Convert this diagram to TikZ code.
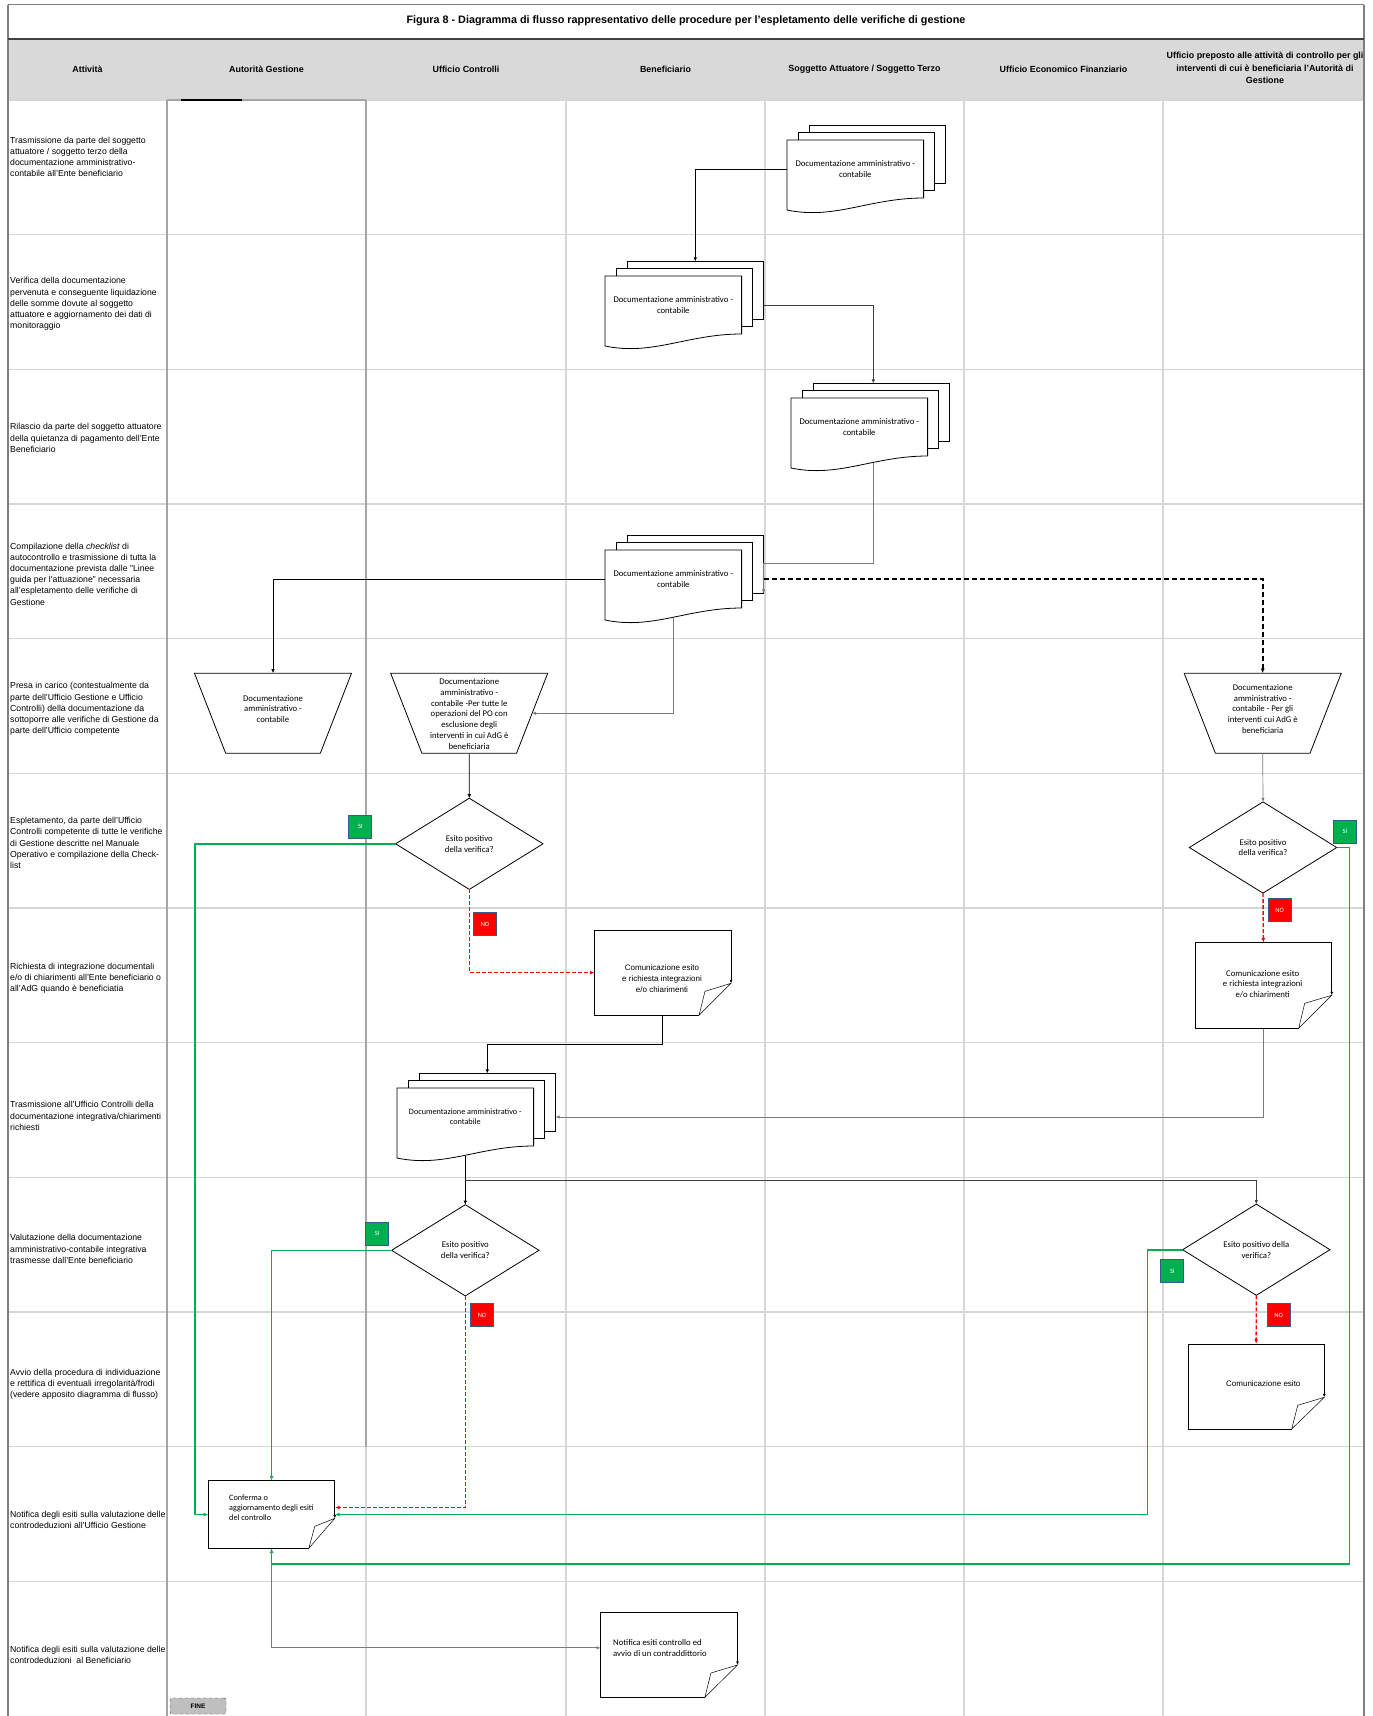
\documentclass[tikz,border=0pt]{standalone}
\usepackage{fontspec}
\setmainfont{Liberation Sans}
\newfontfamily\calfont{Carlito}
\usetikzlibrary{arrows.meta,calc}
\definecolor{gridgray}{HTML}{D6D6D6}
\definecolor{framegray}{HTML}{A6A6A6}
\definecolor{bordergray}{HTML}{7F7F7F}
\definecolor{hdrgray}{HTML}{D9D9D9}
\definecolor{conngray}{HTML}{7A7A7A}
\definecolor{okgreen}{HTML}{00B050}
\definecolor{boxblue}{HTML}{3A5A8C}
\definecolor{finefill}{HTML}{BFBFBF}
\definecolor{titleline}{HTML}{404040}

\tikzset{
  gridln/.style={draw=gridgray, line width=1.5pt},
  frameln/.style={draw=framegray, line width=1.3pt},
  shp/.style={draw=black, line width=0.8pt},
  stxt/.style={inner sep=0pt, align=center, font=\calfont\fontsize{8.7}{10.8}\selectfont},
  atxt/.style={inner sep=0pt, align=center, font=\fontsize{8}{11}\selectfont},
  dtxt/.style={stxt, minimum width=136.6pt, minimum height=58pt},
  lab/.style={anchor=west, align=left, inner sep=0pt, font=\fontsize{8.7}{11.2}\selectfont},
  hdr/.style={align=center, inner sep=0pt, font=\bfseries\fontsize{8.9}{12.5}\selectfont},
  conn/.style={draw=black, line width=0.7pt, -{Latex[length=4pt,width=3.4pt]}},
  connD/.style={draw=titleline, line width=0.7pt, -{Latex[length=4pt,width=3.4pt]}},
  connG/.style={draw=conngray, line width=0.7pt, -{Latex[length=4pt,width=3.4pt]}},
  siln/.style={draw=okgreen, line width=1.6pt, -{Latex[length=4.5pt,width=4pt]}},
  noln/.style={draw=red, line width=1.4pt, dash pattern=on 4pt off 2pt, -{Latex[length=4.5pt,width=4pt]}},
  bdash/.style={draw=black, line width=1.6pt, dash pattern=on 5pt off 3pt, -{Latex[length=4.5pt,width=4pt]}},
  sibox/.style={fill=okgreen, draw=boxblue, line width=0.9pt, minimum width=23pt, minimum height=23pt, inner sep=0pt, text=white, font=\calfont\fontsize{6.5}{7}\selectfont},
  nobox/.style={sibox, fill=red},
}

% multi-document: name, x(left of front page), y(top of front page), text, extra style
\newcommand{\mdoc}[5]{%
  \draw[shp] (#2+22,#3-7.3) -- (#2+22,#3-14.6) -- (#2+158.6,#3-14.6) -- (#2+158.6,#3+43.4) -- (#2+147.6,#3+43.4);
  \draw[shp] (#2+11,#3) -- (#2+11,#3-7.3) -- (#2+147.6,#3-7.3) -- (#2+147.6,#3+50.7) -- (#2+136.6,#3+50.7);
  \draw[shp] (#2,#3) -- (#2+136.6,#3) -- (#2+136.6,#3+58) .. controls (#2+82,#3+58) and (#2+47.8,#3+80) .. (#2,#3+70) -- cycle;
  \node[dtxt,#5] (#1) at (#2+68.3,#3+29) {#4};
  \coordinate (#1-t) at (#2+90.3,#3-14.6);
  \coordinate (#1-r) at (#2+158.6,#3+29);
  \coordinate (#1-b) at (#2+68.3,#3+67.8);
  \coordinate (#1-se) at (#2+158.6,#3+43.4);
}
% diamond: name, cx, cy, text
\newcommand{\diam}[4]{%
  \node[stxt, minimum width=147pt, minimum height=90.8pt] (#1) at (#2,#3) {#4};
  \draw[shp] (#1.north) -- (#1.east) -- (#1.south) -- (#1.west) -- cycle;
}
% inverted trapezium: name, cx, cy, text, text y
\newcommand{\trapz}[5]{%
  \draw[shp] (#2-78.5,#3-40) -- (#2+78.5,#3-40) -- (#2+47.3,#3+40) -- (#2-47.3,#3+40) -- cycle;
  \node[inner sep=0pt, minimum width=157pt, minimum height=80pt] (#1) at (#2,#3) {};
  \node[stxt] (#1-txt) at (#2,#5) {#4};
  \coordinate (#1-e) at (#2+62.9,#3);
}
% page with curled corner: name, x1, y1, x2, y2, fold w, fold h
\newcommand{\notebox}[7]{%
  \draw[shp] (#4-#6,#5) -- (#2,#5) -- (#2,#3) -- (#4,#3);
  \draw[shp,-{Latex[length=3.5pt,width=3pt]}] (#4,#3) -- (#4,#5-#7);
  \draw[shp,line width=0.5pt] (#4,#5-#7) -- (#4-#6,#5) -- (#4-#6+6,#5-#7+8) -- cycle;
  \node[inner sep=0pt, minimum width=#4-#2, minimum height=#5-#3] (#1) at ({(#2+#4)/2},{(#3+#5)/2}) {};
}

\begin{document}
\begin{tikzpicture}[x=1pt,y=-1pt]
\fill[white] (0,0) rectangle (1373,1716);
\useasboundingbox (0,0) rectangle (1373,1716);

% header band
\fill[hdrgray] (8,38.5) rectangle (1364,100);

% grid
\draw[gridln] (8,100) -- (1364,100);
\foreach \k in {1,...,11} \draw[gridln] (8,100+134.67*\k) -- (1364,100+134.67*\k);
\foreach \xx in {366,566,765,964,1163} \draw[gridln] (\xx,100) -- (\xx,1716);
\draw[frameln] (167,100) -- (167,1716);
\draw[frameln] (366,100) -- (366,1446.7);
\draw[frameln] (167,100) -- (366,100);
\draw[line width=2.5pt] (181,100) -- (242,100);

% outer borders
\draw[draw=bordergray, line width=1.8pt] (8,4.5) -- (8,1716);
\draw[draw=bordergray, line width=1.8pt] (1364,4.5) -- (1364,1716);
\draw[draw=bordergray, line width=1.2pt] (8,4.5) -- (1364,4.5);
\draw[draw=titleline, line width=2pt] (8,38.5) -- (1364,38.5);

% title and headers
\node[inner sep=0pt, font=\bfseries\fontsize{10.8}{12}\selectfont] (title) at (686,20.5) {Figura 8 - Diagramma di flusso rappresentativo delle procedure per l'espletamento delle verifiche di gestione};
\node[hdr] (h1) at (87.5,69) {Attività};
\node[hdr] (h2) at (266.5,69) {Autorità Gestione};
\node[hdr] (h3) at (466,69) {Ufficio Controlli};
\node[hdr] (h4) at (665.5,69) {Beneficiario};
\node[hdr] (h5) at (864.5,69) {Soggetto Attuatore / Soggetto Terzo};
\node[hdr] (h6) at (1063.5,69) {Ufficio Economico Finanziario};
\node[hdr] (h7) at (1265,68) {Ufficio preposto alle attività di controllo per gli\\interventi di cui è beneficiaria l'Autorità di\\Gestione};

% row labels
\node[lab] (lab1) at (10,157) {Trasmissione da parte del soggetto\\attuatore / soggetto terzo della\\documentazione amministrativo-\\contabile all'Ente beneficiario};
\node[lab] (lab2) at (10,304) {Verifica della documentazione\\pervenuta e conseguente liquidazione\\delle somme dovute al soggetto\\attuatore e aggiornamento dei dati di\\monitoraggio};
\node[lab] (lab3) at (10,438) {Rilascio da parte del soggetto attuatore\\della quietanza di pagamento dell'Ente\\Beneficiario};
\node[lab] (lab4) at (10,574) {Compilazione della \textit{checklist} di\\autocontrollo e trasmissione di tutta la\\documentazione prevista dalle "Linee\\guida per l'attuazione" necessaria\\all'espletamento delle verifiche di\\Gestione};
\node[lab] (lab5) at (10,709) {Presa in carico (contestualmente da\\parte dell'Ufficio Gestione e Ufficio\\Controlli) della documentazione da\\sottoporre alle verifiche di Gestione da\\parte dell'Ufficio competente};
\node[lab] (lab6) at (10,843) {Espletamento, da parte dell'Ufficio\\Controlli competente di tutte le verifiche\\di Gestione descritte nel Manuale\\Operativo e compilazione della Check-\\list};
\node[lab] (lab7) at (10,978) {Richiesta di integrazione documentali\\e/o di chiarimenti all'Ente beneficiario o\\all'AdG quando è beneficiatia};
\node[lab] (lab8) at (10,1116) {Trasmissione all'Ufficio Controlli della\\documentazione integrativa/chiarimenti\\richiesti};
\node[lab] (lab9) at (10,1249) {Valutazione della documentazione\\amministrativo-contabile integrativa\\trasmesse dall'Ente beneficiario};
\node[lab] (lab10) at (10,1384.5) {Avvio della procedura di individuazione\\e rettifica di eventuali irregolarità/frodi\\(vedere apposito diagramma di flusso)};
\node[lab] (lab11) at (10,1519.5) {Notifica degli esiti sulla valutazione delle\\controdeduzioni all'Ufficio Gestione};
\node[lab] (lab12) at (10,1654.5) {Notifica degli esiti sulla valutazione delle\\controdeduzioni \ al Beneficiario};

% multi-document shapes
\mdoc{d1}{787}{140}{Documentazione amministrativo -\\contabile}{}
\mdoc{d2}{605}{276}{Documentazione amministrativo -\\contabile}{}
\mdoc{d3}{791}{398}{Documentazione amministrativo -\\contabile}{}
\mdoc{d4}{605}{550}{Documentazione amministrativo -\\contabile}{}
\mdoc{d5}{397}{1088}{Documentazione amministrativo -\\contabile}{font=\calfont\fontsize{8.2}{10}\selectfont}
\coordinate (d3-out) at (873,463);

% trapeziums
\trapz{t1}{273}{713.3}{Documentazione\\amministrativo -\\contabile}{709}
\trapz{t2}{469.2}{713.3}{Documentazione\\amministrativo -\\contabile -Per tutte le\\operazioni del PO con\\esclusione degli\\interventi in cui AdG è\\beneficiaria}{714}
\trapz{t3}{1262.7}{713.3}{Documentazione\\amministrativo -\\contabile - Per gli\\interventi cui AdG è\\beneficiaria}{709}

% decisions
\diam{q1}{469.3}{843.8}{Esito positivo\\della verifica?}
\diam{q2}{465.3}{1250.3}{Esito positivo\\della verifica?}
\diam{q3}{1263}{847.5}{Esito positivo\\della verifica?}
\diam{q4}{1256.3}{1249.7}{Esito positivo della\\verifica?}

% documents with curled corner
\notebox{cb}{594.6}{930}{731}{1015.3}{32}{32}
\node[atxt] (cbt) at (662,979) {Comunicazione esito\\e richiesta integrazioni\\e/o chiarimenti};
\notebox{ca}{1195}{942.7}{1331.7}{1028.3}{33}{33}
\node[stxt] (cat) at (1262.7,984) {Comunicazione esito\\e richiesta integrazioni\\e/o chiarimenti};
\notebox{ce}{1188}{1344}{1324.3}{1429}{32.6}{31.7}
\node[atxt] (cet) at (1263.3,1384) {Comunicazione esito};
\notebox{c1}{208.4}{1480.7}{334.8}{1548.3}{26}{30}
\node[stxt, align=left, anchor=west, font=\calfont\fontsize{8.2}{10}\selectfont] (c1t) at (229,1508) {Conferma o\\aggiornamento degli esiti\\del controllo};
\notebox{nb}{600.7}{1612.3}{737.5}{1697.3}{32.6}{32.3}
\node[stxt, align=left, anchor=west] (nbt) at (613,1648) {Notifica esiti controllo ed\\avvio di un contraddittorio};

\node[draw=titleline, dashed, fill=finefill, rounded corners=2pt, minimum width=56pt, minimum height=16pt, inner sep=0pt, font=\bfseries\fontsize{6.5}{7}\selectfont] (fine) at (198,1706) {FINE};

% connectors
\draw[conn] (d1.west) -| (d2-t);
\draw[connD] (d2-r) -| ($(d3-t)+(-8,0)$);
\draw[connG] (d3-out) |- ($(d4-se)+(0,-30)$) -- (d4-se);
\draw[conn] (d4.west) -| (t1.north);
\draw[connG] (d4-b) |- (t2-e);
\draw[bdash] (d4-r) -| (t3.north);
\draw[conn] (t2.south) -- (q1.north);
\draw[connG] (t3.south) -- (q3.north);
\draw[conn] (cb.south) -- ++(0,29) -| (d5-t);
\draw[connG] (ca.south) |- (d5-r);
\draw[conn] (d5-b) -- (q2.north);
\draw[connD] ($(d5-b)+(0,25)$) -| (q4.north);
\draw[connG] (c1.south) |- ($(nb.west)+(0,-7)$);

% SI paths
\draw[siln] (q1.west) -| ($(c1.west)+(-13,0)$) -- (c1.west);
\draw[siln] (q2.west) -| (c1.north);
\draw[siln] (q3.east) -- ++(12.6,0) |- ($(c1.south)+(0,15.7)$) -- (c1.south);
\draw[siln] (q4.west) -- ++(-35,0) |- (c1.east);

% NO paths
\draw[noln] (q1.south) |- (cb.west);
\draw[noln] (q2.south) |- ($(c1.east)+(0,-7)$);
\draw[noln] (q3.south) -- (ca.north);
\draw[noln] (q4.south) -- (ce.north);

% SI / NO labels
\node[sibox] (si1) at (360.4,826.7) {SI};
\node[nobox] (no1) at (485,924) {NO};
\node[sibox] (si3) at (1345,831.7) {SI};
\node[nobox] (no3) at (1279.7,910.3) {NO};
\node[sibox] (si2) at (377.3,1233.8) {SI};
\node[nobox] (no2) at (482,1315.3) {NO};
\node[sibox] (si4) at (1172.3,1271.2) {SI};
\node[nobox] (no4) at (1278.7,1315.3) {NO};
\end{tikzpicture}
\end{document}
